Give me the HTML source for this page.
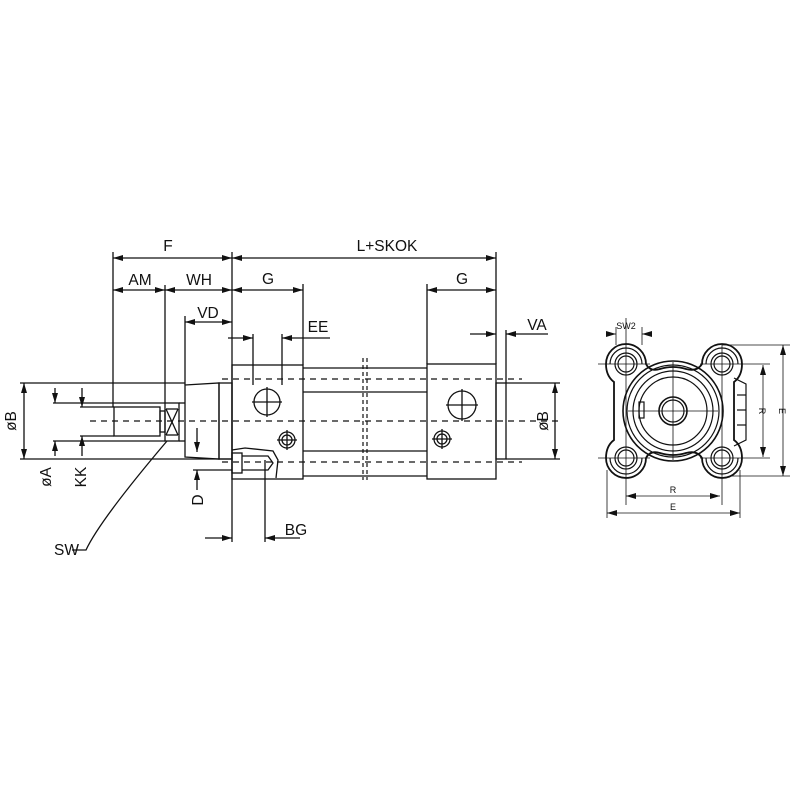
<!DOCTYPE html>
<html><head><meta charset="utf-8"><style>html,body{margin:0;padding:0;background:#fff}svg{display:block}</style></head>
<body>
<svg width="800" height="800" viewBox="0 0 800 800" xmlns="http://www.w3.org/2000/svg" font-family="Liberation Sans, sans-serif">
<defs>
<marker id="a" viewBox="0 0 10 6" refX="10" refY="3" markerWidth="10" markerHeight="6" orient="auto-start-reverse" markerUnits="userSpaceOnUse"><path d="M0,0L10,3L0,6z" fill="#111"/></marker>
</defs>
<g stroke="#111" fill="none" stroke-width="1.3">
<!-- extension lines -->
<line x1="113" y1="252" x2="113" y2="407"/>
<line x1="232" y1="252" x2="232" y2="542"/>
<line x1="165" y1="285" x2="165" y2="403"/>
<line x1="185" y1="316" x2="185" y2="385"/>
<line x1="303" y1="284" x2="303" y2="365"/>
<line x1="427" y1="284" x2="427" y2="364"/>
<line x1="496" y1="252" x2="496" y2="364"/>
<line x1="506" y1="330" x2="506" y2="383"/>
<line x1="253" y1="334" x2="253" y2="385"/>
<line x1="282" y1="334" x2="282" y2="385"/>
<line x1="265" y1="460" x2="265" y2="542"/>
<!-- dimension lines -->
<line x1="113" y1="258" x2="232" y2="258" marker-start="url(#a)" marker-end="url(#a)"/>
<line x1="232" y1="258" x2="496" y2="258" marker-start="url(#a)" marker-end="url(#a)"/>
<line x1="113" y1="290" x2="165" y2="290" marker-start="url(#a)" marker-end="url(#a)"/>
<line x1="165" y1="290" x2="232" y2="290" marker-start="url(#a)" marker-end="url(#a)"/>
<line x1="232" y1="290" x2="303" y2="290" marker-start="url(#a)" marker-end="url(#a)"/>
<line x1="427" y1="290" x2="496" y2="290" marker-start="url(#a)" marker-end="url(#a)"/>
<line x1="185" y1="322" x2="232" y2="322" marker-start="url(#a)" marker-end="url(#a)"/>
<line x1="228" y1="338" x2="253" y2="338" marker-end="url(#a)"/>
<line x1="330" y1="338" x2="282" y2="338" marker-end="url(#a)"/>
<line x1="470" y1="334" x2="496" y2="334" marker-end="url(#a)"/>
<line x1="548" y1="334" x2="506" y2="334" marker-end="url(#a)"/>
<line x1="205" y1="538" x2="232" y2="538" marker-end="url(#a)"/>
<line x1="300" y1="538" x2="265" y2="538" marker-end="url(#a)"/>
<!-- left øB -->
<line x1="20" y1="383" x2="185" y2="383"/>
<line x1="20" y1="459" x2="232" y2="459"/>
<line x1="24" y1="383" x2="24" y2="459" marker-start="url(#a)" marker-end="url(#a)"/>
<!-- øA / KK -->
<line x1="53" y1="403" x2="165" y2="403"/>
<line x1="53" y1="441" x2="165" y2="441"/>
<line x1="80" y1="407" x2="114" y2="407"/>
<line x1="80" y1="436" x2="114" y2="436"/>
<line x1="55" y1="388" x2="55" y2="403" marker-end="url(#a)"/>
<line x1="55" y1="456" x2="55" y2="441" marker-end="url(#a)"/>
<line x1="82" y1="388" x2="82" y2="407" marker-end="url(#a)"/>
<line x1="82" y1="456" x2="82" y2="436" marker-end="url(#a)"/>
<!-- D -->
<line x1="193" y1="470" x2="232" y2="470"/>
<line x1="197" y1="490" x2="197" y2="470" marker-end="url(#a)"/>
<line x1="197" y1="428" x2="197" y2="452" marker-end="url(#a)"/>
<!-- rod, nut, head -->
<rect x="114" y="407" width="46" height="29"/>
<rect x="160" y="411" width="5" height="21"/>
<rect x="165" y="403" width="14" height="38"/>
<line x1="166" y1="409" x2="178" y2="435"/><line x1="178" y1="409" x2="166" y2="435"/>
<line x1="166" y1="409" x2="178" y2="409"/><line x1="166" y1="435" x2="178" y2="435"/>
<line x1="179" y1="403" x2="185" y2="403"/><line x1="179" y1="441" x2="185" y2="441"/>
<path d="M185 385 L219 383 L219 459 L185 457 Z"/>
<rect x="219" y="383" width="13" height="76"/>
<!-- blocks -->
<rect x="232" y="365" width="71" height="114"/>
<rect x="427" y="364" width="69" height="115"/>
<rect x="496" y="383" width="10" height="76"/>
<line x1="303" y1="368" x2="427" y2="368"/><line x1="303" y1="392" x2="427" y2="392"/>
<line x1="303" y1="451" x2="427" y2="451"/><line x1="303" y1="476" x2="427" y2="476"/>
<line x1="506" y1="383" x2="560" y2="383"/><line x1="506" y1="459" x2="560" y2="459"/>
<line x1="555" y1="383" x2="555" y2="459" marker-start="url(#a)" marker-end="url(#a)"/>
<circle cx="267" cy="402" r="13"/>
<line x1="252" y1="402" x2="282" y2="402"/><line x1="267" y1="387" x2="267" y2="417"/>
<circle cx="462" cy="405" r="14"/>
<line x1="446" y1="405" x2="478" y2="405"/><line x1="462" y1="389" x2="462" y2="421"/>
<circle cx="287" cy="440" r="8"/><circle cx="287" cy="440" r="5"/>
<line x1="277" y1="440" x2="297" y2="440"/><line x1="287" y1="430" x2="287" y2="450"/>
<circle cx="442" cy="439" r="8"/><circle cx="442" cy="439" r="5"/>
<line x1="432" y1="439" x2="452" y2="439"/><line x1="442" y1="429" x2="442" y2="449"/>
<!-- cushion screw -->
<path d="M232 450 L245 448 L273 451 L278 460 L276 478"/>
<rect x="232" y="453" width="10" height="20"/>
<path d="M242 456 L268 456 L273 463 L268 470 L242 470"/>
<!-- SW leader -->
<path d="M72 550 L86 550 Q100 520 167 441"/>
</g>
<!-- dashed -->
<g stroke="#111" stroke-width="1.2" stroke-dasharray="6,5" fill="none">
<line x1="90" y1="421" x2="560" y2="421"/>
<line x1="222" y1="379" x2="522" y2="379"/>
<line x1="222" y1="462" x2="522" y2="462"/>
<line x1="363" y1="358" x2="363" y2="480" stroke-dasharray="4,3"/>
<line x1="367" y1="358" x2="367" y2="480" stroke-dasharray="4,3"/>
</g>
<!-- end view -->
<g stroke="#111" fill="none" stroke-width="1.2">
<path stroke-width="1.8" d="M606 364 A20 20 0 0 1 646 364 Q650 372 660 369 Q673 365 686 369 Q697 372 702 364 A20 20 0 0 1 742 364 Q742 376 734 382 L734 440 Q742 446 742 458 A20 20 0 0 1 702 458 Q697 450 686 453 Q673 457 660 453 Q650 450 646 458 A20 20 0 0 1 606 458 Q606 446 614 440 L614 382 Q606 376 606 364 Z"/>
<path d="M610 364 A16 16 0 0 1 642 364 M706 364 A16 16 0 0 1 738 364 M610 458 A16 16 0 0 0 642 458 M706 458 A16 16 0 0 0 738 458"/>
<circle cx="626" cy="364" r="11"/><circle cx="626" cy="364" r="8"/>
<circle cx="722" cy="364" r="11"/><circle cx="722" cy="364" r="8"/>
<circle cx="626" cy="458" r="11"/><circle cx="626" cy="458" r="8"/>
<circle cx="722" cy="458" r="11"/><circle cx="722" cy="458" r="8"/>
<circle cx="673" cy="411" r="50" stroke-width="1.6"/><circle cx="673" cy="411" r="46"/>
<circle cx="673" cy="411" r="40"/><circle cx="673" cy="411" r="34"/>
<circle cx="673" cy="411" r="14" stroke-width="1.6"/><circle cx="673" cy="411" r="11"/>
<rect x="639" y="402" width="5" height="16"/>
<path d="M734 378 L746 384 L746 440 L734 446"/>
<line x1="737" y1="395" x2="746" y2="395"/><line x1="737" y1="410" x2="746" y2="410"/><line x1="737" y1="425" x2="746" y2="425"/>
<g stroke-width="0.8">
<line x1="626" y1="318" x2="626" y2="505"/><line x1="722" y1="345" x2="722" y2="505"/>
<line x1="673" y1="362" x2="673" y2="460"/><line x1="628" y1="411" x2="718" y2="411"/>
<line x1="598" y1="364" x2="650" y2="364"/><line x1="700" y1="364" x2="770" y2="364"/>
<line x1="598" y1="458" x2="650" y2="458"/><line x1="700" y1="458" x2="770" y2="458"/>
<line x1="722" y1="345" x2="790" y2="345"/><line x1="730" y1="476" x2="790" y2="476"/>
<line x1="607" y1="470" x2="607" y2="518"/><line x1="740" y1="470" x2="740" y2="518"/>
<line x1="616" y1="327" x2="616" y2="345"/><line x1="642" y1="327" x2="642" y2="345"/>
<line x1="626" y1="496" x2="720" y2="496" marker-start="url(#a)" marker-end="url(#a)"/>
<line x1="607" y1="513" x2="740" y2="513" marker-start="url(#a)" marker-end="url(#a)"/>
<line x1="763" y1="365" x2="763" y2="457" marker-start="url(#a)" marker-end="url(#a)"/>
<line x1="783" y1="345" x2="783" y2="476" marker-start="url(#a)" marker-end="url(#a)"/>
<line x1="606" y1="334" x2="616" y2="334" marker-end="url(#a)"/>
<line x1="652" y1="334" x2="642" y2="334" marker-end="url(#a)"/>
</g>
</g>
<!-- labels -->
<g fill="#111" font-size="15.5">
<text x="168" y="251" text-anchor="middle">F</text>
<text x="387" y="251" text-anchor="middle">L+SKOK</text>
<text x="140" y="285" text-anchor="middle">AM</text>
<text x="199" y="285" text-anchor="middle">WH</text>
<text x="268" y="284" text-anchor="middle">G</text>
<text x="462" y="284" text-anchor="middle">G</text>
<text x="208" y="318" text-anchor="middle">VD</text>
<text x="318" y="332" text-anchor="middle">EE</text>
<text x="537" y="330" text-anchor="middle">VA</text>
<text x="296" y="535" text-anchor="middle">BG</text>
<text x="79" y="555" text-anchor="end">SW</text>
<text transform="translate(16,421) rotate(-90)" text-anchor="middle">øB</text>
<text transform="translate(548,421) rotate(-90)" text-anchor="middle">øB</text>
<text transform="translate(51,477) rotate(-90)" text-anchor="middle">øA</text>
<text transform="translate(86,477) rotate(-90)" text-anchor="middle">KK</text>
<text transform="translate(203,500) rotate(-90)" text-anchor="middle">D</text>
</g>
<g fill="#111" font-size="9">
<text x="626" y="329" text-anchor="middle">SW2</text>
<text x="673" y="493" text-anchor="middle">R</text>
<text x="673" y="510" text-anchor="middle">E</text>
<text transform="translate(759,411) rotate(90)" text-anchor="middle">R</text>
<text transform="translate(779,411) rotate(90)" text-anchor="middle">E</text>
</g>
</svg>
</body></html>
